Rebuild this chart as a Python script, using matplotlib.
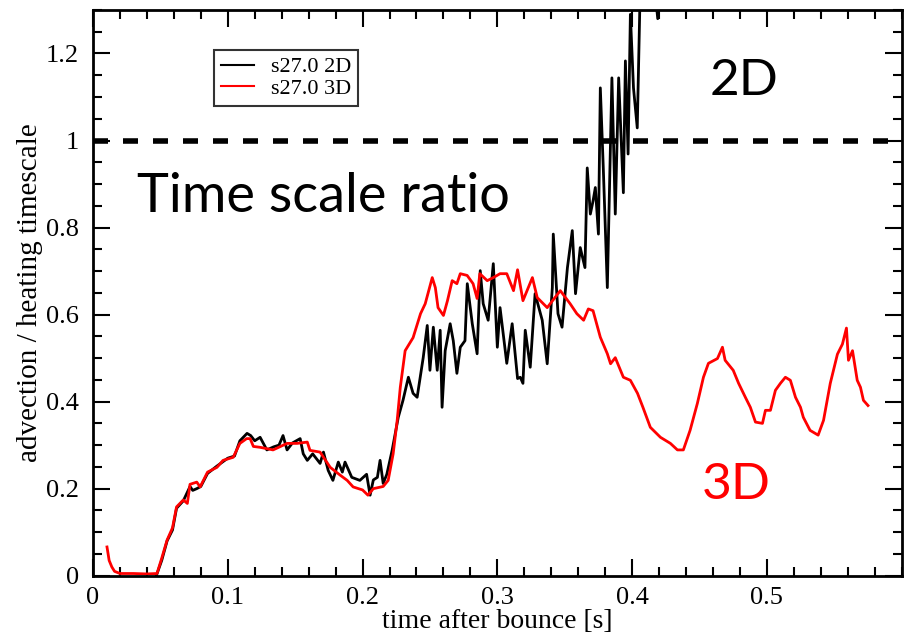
import numpy as np
import matplotlib
matplotlib.use('Agg')
import matplotlib.pyplot as plt
from matplotlib.ticker import MultipleLocator

# 데이터
t_3d = [0.0104, 0.012, 0.014, 0.016, 0.02, 0.03, 0.04, 0.0475, 0.051, 0.055,
        0.059, 0.062, 0.067, 0.07, 0.072, 0.077, 0.0795, 0.085, 0.092, 0.0965,
        0.104, 0.109, 0.114, 0.1166, 0.119, 0.124, 0.1336, 0.144, 0.1514, 0.159,
        0.161, 0.1685, 0.176, 0.1834, 0.1886, 0.193, 0.2, 0.204, 0.208, 0.2153,
        0.219, 0.2227, 0.2257, 0.228, 0.2316, 0.2375, 0.243, 0.2465, 0.2517, 0.254,
        0.256, 0.26, 0.263, 0.2665, 0.27, 0.2725, 0.2776, 0.282, 0.285, 0.287,
        0.2925, 0.297, 0.302, 0.307, 0.312, 0.315, 0.319, 0.326, 0.3296, 0.337,
        0.3467, 0.354, 0.359, 0.364, 0.3675, 0.371, 0.3764, 0.3816, 0.384, 0.3875,
        0.3935, 0.3987, 0.404, 0.408, 0.4135, 0.421, 0.4284, 0.4336, 0.438, 0.443,
        0.4484, 0.4529, 0.4566, 0.4633, 0.467, 0.469, 0.475, 0.479, 0.484, 0.4877,
        0.4915, 0.4967, 0.4989, 0.5026, 0.5063, 0.51, 0.5137, 0.5174, 0.5212, 0.5249,
        0.527, 0.532, 0.538, 0.542, 0.547, 0.5523, 0.556, 0.559, 0.5605, 0.5635,
        0.567, 0.5694, 0.5716, 0.575]
r_3d = [0.066, 0.035, 0.02, 0.01, 0.005, 0.005, 0.004, 0.005, 0.04, 0.082,
        0.11, 0.158, 0.174, 0.166, 0.21, 0.215, 0.204, 0.238, 0.249, 0.265,
        0.272, 0.304, 0.315, 0.315, 0.297, 0.295, 0.289, 0.304, 0.304, 0.307,
        0.288, 0.284, 0.249, 0.231, 0.219, 0.204, 0.197, 0.185, 0.2, 0.205,
        0.219, 0.28, 0.357, 0.433, 0.517, 0.547, 0.602, 0.625, 0.685, 0.662,
        0.616, 0.598, 0.632, 0.678, 0.671, 0.694, 0.69, 0.671, 0.637, 0.694,
        0.678, 0.685, 0.694, 0.694, 0.655, 0.703, 0.632, 0.685, 0.639, 0.616,
        0.655, 0.625, 0.602, 0.587, 0.613, 0.609, 0.548, 0.51, 0.487, 0.501,
        0.456, 0.449, 0.419, 0.387, 0.341, 0.318, 0.304, 0.289, 0.289, 0.334,
        0.396, 0.456, 0.488, 0.499, 0.525, 0.495, 0.472, 0.442, 0.41, 0.387,
        0.353, 0.35, 0.38, 0.38, 0.426, 0.442, 0.456, 0.449, 0.41, 0.387,
        0.364, 0.334, 0.323, 0.357, 0.442, 0.509, 0.532, 0.569, 0.495, 0.517,
        0.449, 0.433, 0.403, 0.391]

t_2d = [0.047, 0.051, 0.055, 0.059, 0.062, 0.067, 0.072, 0.074, 0.077, 0.08,
        0.085, 0.092, 0.1, 0.105, 0.109, 0.1143, 0.117, 0.12, 0.124, 0.129,
        0.134, 0.138, 0.141, 0.144, 0.148, 0.1537, 0.156, 0.159, 0.163, 0.1685,
        0.171, 0.1745, 0.178, 0.182, 0.185, 0.187, 0.192, 0.198, 0.203, 0.2056,
        0.208, 0.211, 0.213, 0.2153, 0.218, 0.222, 0.2265, 0.23, 0.234, 0.2375,
        0.2405, 0.245, 0.248, 0.25, 0.2525, 0.2554, 0.2576, 0.259, 0.2613, 0.265,
        0.2673, 0.27, 0.2725, 0.276, 0.2777, 0.2814, 0.285, 0.2873, 0.2895, 0.2932,
        0.297, 0.3, 0.302, 0.307, 0.311, 0.315, 0.317, 0.319, 0.3207, 0.3244,
        0.328, 0.3333, 0.337, 0.3408, 0.3415, 0.345, 0.348, 0.352, 0.3556, 0.358,
        0.3615, 0.365, 0.3667, 0.369, 0.371, 0.3727, 0.375, 0.3764, 0.3786, 0.3816,
        0.385, 0.3875, 0.39, 0.3935, 0.395, 0.397, 0.3987, 0.401, 0.4038, 0.406,
        0.412, 0.419, 0.425]
r_2d = [0.0, 0.035, 0.08, 0.105, 0.155, 0.172, 0.205, 0.196, 0.2, 0.205,
        0.235, 0.252, 0.27, 0.275, 0.31, 0.327, 0.322, 0.31, 0.318, 0.289,
        0.296, 0.3, 0.322, 0.289, 0.305, 0.315, 0.28, 0.265, 0.28, 0.258,
        0.284, 0.242, 0.219, 0.261, 0.238, 0.261, 0.226, 0.219, 0.233, 0.185,
        0.22, 0.226, 0.265, 0.212, 0.233, 0.289, 0.364, 0.403, 0.456, 0.419,
        0.41, 0.501, 0.575, 0.472, 0.571, 0.472, 0.564, 0.387, 0.517, 0.579,
        0.54, 0.465, 0.525, 0.54, 0.671, 0.579, 0.51, 0.701, 0.625, 0.587,
        0.717, 0.525, 0.616, 0.488, 0.579, 0.453, 0.456, 0.442, 0.564, 0.479,
        0.648, 0.587, 0.487, 0.662, 0.785, 0.602, 0.571, 0.708, 0.793, 0.648,
        0.754, 0.708, 0.937, 0.831, 0.861, 0.892, 0.785, 1.121, 0.937, 0.662,
        1.144, 0.831, 1.144, 0.88, 1.183, 0.969, 1.29, 1.121, 1.029, 1.35,
        1.5, 1.28, 1.6]

serif = ['Liberation Serif', 'DejaVu Serif']

fig = plt.figure(figsize=(9.16, 6.40), dpi=100)
ax = fig.add_axes([0.1015, 0.1005, 0.8829, 0.8839])

ax.plot(t_2d, r_2d, color='black', lw=2, label='s27.0 2D')
ax.plot(t_3d, r_3d, color='red', lw=2, label='s27.0 3D')
ax.axhline(1.0, color='black', lw=4, dashes=(2.7, 2.7))

ax.set_xlim(0, 0.6)
ax.set_ylim(0, 1.3)
ax.xaxis.set_minor_locator(MultipleLocator(0.02))
ax.yaxis.set_minor_locator(MultipleLocator(0.05))
ax.set_xticks([0, 0.1, 0.2, 0.3, 0.4, 0.5])
ax.set_xticklabels(['0', '0.1', '0.2', '0.3', '0.4', '0.5'])
ax.set_yticks([0, 0.2, 0.4, 0.6, 0.8, 1.0, 1.2])
ax.set_yticklabels(['0', '0.2', '0.4', '0.6', '0.8', '1', '1.2'])

ax.tick_params(which='both', direction='in', top=True, right=True, width=1.5)
ax.tick_params(which='major', length=12.5)
ax.tick_params(which='minor', length=6.5)
ax.tick_params(axis='x', pad=8)
ax.tick_params(axis='y', pad=10)
for lab in ax.get_xticklabels() + ax.get_yticklabels():
    lab.set_family(serif)
    lab.set_fontsize(19)
for sp in ax.spines.values():
    sp.set_linewidth(2)

ax.set_xlabel('time after bounce [s]', family=serif, fontsize=20, labelpad=0)
ax.set_ylabel('advection / heating timescale', family=serif, fontsize=21, labelpad=2)

leg = ax.legend(loc='upper left', bbox_to_anchor=(0.1496, 0.929), borderaxespad=0,
                prop={'family': serif, 'size': 16}, frameon=True, fancybox=False,
                edgecolor='black', handlelength=1.5, handletextpad=0.75,
                labelspacing=0.05, borderpad=0.3)
leg.get_frame().set_linewidth(1.5)
for h in leg.get_lines():
    h.set_linewidth(1.5)

big = ['Lato', 'DejaVu Sans']
ax.text(0.0544, 0.643, 'Time scale ratio', transform=ax.transAxes, family=big,
        fontsize=39, ha='left', va='baseline')
ax.text(0.762, 0.850, '2D', transform=ax.transAxes, family=big,
        fontsize=37, ha='left', va='baseline')
ax.text(0.753, 0.1357, '3D', transform=ax.transAxes, family=big, color='red',
        fontsize=37, ha='left', va='baseline')

fig.savefig('out.png', dpi=100)
